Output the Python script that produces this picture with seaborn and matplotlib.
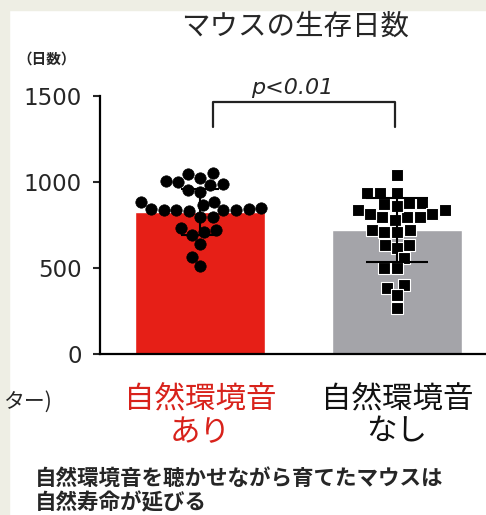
import numpy as np
import pandas as pd
import matplotlib.pyplot as plt
import seaborn as sns
from matplotlib.patches import Rectangle

# groups and values
groups = ['自然環境音\nあり', '自然環境音\nなし']
bar_means = [826, 721]
bar_sd = [135, 185]

red_vals = [1052, 1047, 1023, 1006, 1000, 988, 983, 953, 942, 884, 866, 884,
            845, 840, 835, 842, 832, 846, 839, 836, 797, 797,
            733, 721, 709, 692, 640, 564, 512]
gray_vals = [1041, 936, 936, 936, 878, 870, 837, 815, 797, 797, 797, 815,
             837, 860, 878, 779, 721, 709, 709, 721, 634, 616, 634, 558,
             500, 500, 401, 384, 343, 267]

yticks = [0, 500, 1000, 1500]

red = '#e61f17'
gray = '#a4a4a9'
jp = ['Noto Sans CJK JP', 'DejaVu Sans']

sns.set_style('white')
plt.rcParams['font.family'] = ['DejaVu Sans', 'Noto Sans CJK JP']

fig = plt.figure(figsize=(4.86, 5.15), dpi=100)
# beige edge strips of the screenshot
fig.patches.append(Rectangle((0, 0), 0.018, 1, transform=fig.transFigure, color='#eeeee4', zorder=0))
fig.patches.append(Rectangle((0, 0.98), 1, 0.02, transform=fig.transFigure, color='#eeeee4', zorder=0))

ax = fig.add_axes([0.206, 0.3126, 0.794, 0.501])
ax.patch.set_alpha(0)

sns.barplot(x=groups, y=bar_means, hue=groups, palette=[red, gray],
            width=0.66, legend=False, ax=ax, saturation=1, errorbar=None)

df = pd.DataFrame({'group': [groups[0]] * len(red_vals) + [groups[1]] * len(gray_vals),
                   'days': red_vals + gray_vals})
sns.swarmplot(data=df[df.group == groups[0]], x='group', y='days', order=groups,
              color='black', size=8.2, edgecolor='black', linewidth=0.5, ax=ax, zorder=3)
sns.swarmplot(data=df[df.group == groups[1]], x='group', y='days', order=groups,
              color='black', marker='s', size=8, edgecolor='white', linewidth=0.8, ax=ax, zorder=3)

ax.errorbar([0], [bar_means[0]], yerr=[bar_sd[0]], fmt='none', ecolor='black',
            elinewidth=1.5, capsize=14, capthick=1.5, zorder=5)
ax.errorbar([1], [bar_means[1]], yerr=[bar_sd[1]], fmt='none', ecolor='black',
            elinewidth=1.5, capsize=22, capthick=1.5, zorder=5)

ax.set_xlim(-0.508, 1.452)
ax.set_ylim(0, 1500)
ax.set_yticks(yticks)
ax.set_yticklabels([str(v) for v in yticks], fontsize=16.5)
ax.tick_params(axis='y', direction='out', length=5, width=1.5, pad=8, left=True)
ax.tick_params(axis='x', length=0, pad=22)
ax.set_xticks([0, 1])
ax.set_xticklabels(groups, fontsize=22, family=jp, linespacing=1.05)
ax.get_xticklabels()[0].set_color('#d8221b')
ax.get_xticklabels()[1].set_color('#111111')
ax.set_xlabel('')
ax.set_ylabel('')
for s in ['top', 'right']:
    ax.spines[s].set_visible(False)
for s in ['left', 'bottom']:
    ax.spines[s].set_linewidth(1.6)
    ax.spines[s].set_color('black')

# significance bracket
ax.plot([0.066, 0.066, 0.99, 0.99], [1320, 1465, 1465, 1320], color='#222222',
        lw=1.6, clip_on=False)
ax.text(0.47, 1490, 'p<0.01', style='italic', fontsize=16, ha='center', va='bottom')

fig.text(295 / 486, 1 - 27 / 515, 'マウスの生存日数', fontsize=20.5, family=jp,
         ha='center', va='center')
fig.text(47 / 486, 1 - 59 / 515, '（日数）', fontsize=10.5, family=jp,
         fontweight='bold', ha='center', va='center')
fig.text(52 / 486, 1 - 402 / 515, 'ター)', fontsize=15, family=jp,
         ha='right', va='center')
fig.text(35 / 486, 1 - 478 / 515, '自然環境音を聴かせながら育てたマウスは', fontsize=15.5,
         family=jp, fontweight='bold', ha='left', va='center')
fig.text(35 / 486, 1 - 503 / 515, '自然寿命が延びる', fontsize=15.5,
         family=jp, fontweight='bold', ha='left', va='center')

plt.savefig('out.png', dpi=100)
